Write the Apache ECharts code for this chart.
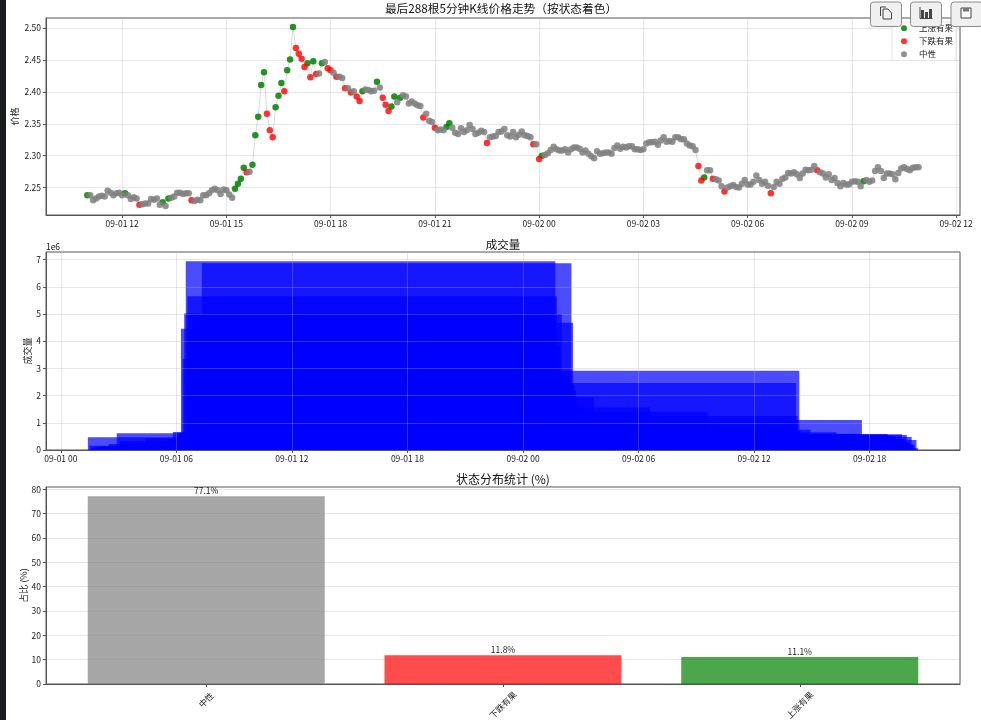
<!DOCTYPE html>
<html>
<head>
<meta charset="utf-8">
<style>
html, body { margin: 0; padding: 0; background: #fff; }
#main { width: 981px; height: 720px; }
</style>
</head>
<body>
<div id="main"></div>
<script src="https://cdn.jsdelivr.net/npm/echarts@6/dist/echarts.min.js"></script>
<script>
var prices = [
2.238,2.238,2.230,2.233,2.236,2.237,2.236,2.245,2.242,2.238,2.241,2.242,
2.238,2.241,2.238,2.232,2.235,2.233,2.223,2.224,2.225,2.225,2.232,2.231,
2.233,2.223,2.227,2.221,2.233,2.234,2.236,2.242,2.242,2.240,2.241,2.241,
2.230,2.229,2.231,2.230,2.238,2.238,2.241,2.246,2.248,2.246,2.240,2.247,
2.246,2.239,2.234,2.248,2.256,2.264,2.281,2.274,2.275,2.286,2.332,2.361,
2.411,2.431,2.366,2.340,2.329,2.376,2.394,2.414,2.401,2.434,2.451,2.502,
2.469,2.460,2.452,2.439,2.445,2.423,2.448,2.428,2.429,2.445,2.447,2.437,
2.434,2.430,2.424,2.424,2.422,2.406,2.406,2.399,2.401,2.393,2.386,2.401,
2.404,2.403,2.401,2.402,2.416,2.407,2.391,2.380,2.370,2.377,2.393,2.384,
2.391,2.395,2.393,2.382,2.385,2.382,2.379,2.378,2.360,2.366,2.355,2.353,
2.344,2.340,2.341,2.340,2.345,2.351,2.344,2.336,2.334,2.343,2.337,2.340,
2.348,2.342,2.334,2.336,2.339,2.337,2.320,2.329,2.330,2.331,2.337,2.338,
2.342,2.332,2.330,2.337,2.329,2.333,2.338,2.332,2.331,2.329,2.318,2.318,
2.295,2.300,2.301,2.304,2.309,2.314,2.310,2.308,2.308,2.310,2.305,2.310,
2.313,2.313,2.311,2.305,2.308,2.303,2.299,2.296,2.307,2.303,2.304,2.305,
2.305,2.303,2.312,2.316,2.311,2.314,2.313,2.315,2.315,2.310,2.310,2.309,
2.310,2.319,2.321,2.321,2.322,2.317,2.324,2.329,2.322,2.323,2.322,2.329,
2.329,2.326,2.326,2.319,2.316,2.315,2.309,2.284,2.261,2.266,2.277,2.277,
2.264,2.263,2.261,2.252,2.244,2.250,2.252,2.254,2.251,2.250,2.256,2.262,
2.255,2.255,2.259,2.269,2.262,2.256,2.259,2.253,2.241,2.251,2.259,2.256,
2.264,2.266,2.273,2.272,2.274,2.271,2.265,2.272,2.278,2.277,2.278,2.284,
2.277,2.274,2.272,2.266,2.271,2.262,2.265,2.257,2.252,2.257,2.255,2.255,
2.259,2.260,2.259,2.252,2.260,2.262,2.259,2.261,2.276,2.282,2.276,2.265,
2.272,2.272,2.271,2.263,2.273,2.280,2.282,2.279,2.277,2.281,2.282,2.282
];
var upIndex = [0,13,26,28,51,52,53,54,57,58,59,60,61,65,66,67,69,70,71,76,78,81,95,100,105,106,108,124,125,157,213,268];
var downIndex = [18,36,55,62,63,64,68,72,73,74,75,77,79,83,84,86,89,91,93,94,102,103,104,116,120,138,154,156,211,212,216,220,236,252];

// 成交量, 单位 1e6
var volumes = [
.47,.16,.08,.05,.10,.06,.12,.07,.14,.09,.11,.05,
.08,.22,.10,.06,.13,.09,.62,.15,.33,.12,.08,.18,
.14,.20,.09,.16,.25,.11,.19,.13,.23,.10,.17,.12,
.43,.15,.21,.12,.26,.09,.18,.30,.14,.22,.11,.28,
.16,.20,.35,.13,.40,.66,.38,.63,.50,.55,4.46,3.35,
5.02,6.94,5.65,3.20,3.80,5.00,2.70,2.60,2.05,2.40,2.75,6.87,
4.68,2.40,2.20,1.60,1.25,1.50,1.40,.90,.80,.70,.90,1.10,
.80,1.94,.70,.60,.85,1.05,.65,.75,.55,.95,1.15,.60,
.45,.50,.40,.35,.90,.55,1.00,1.20,1.30,.75,.85,.50,
.60,.40,.35,.45,.30,.42,.28,.36,.95,.50,.55,.38,
1.56,.40,.30,.28,.70,.85,.45,.50,.33,.38,.42,.30,
.48,.35,.52,.30,.28,.34,.90,.42,.30,.26,.36,.32,
.40,.45,.30,.38,.34,.28,.36,.25,.30,.27,.70,.32,
1.41,.75,.45,.38,.52,.40,.30,.26,.24,.28,.30,.34,
.22,.26,.20,.32,.24,.30,.35,.40,.45,.25,.20,.18,
.16,.22,.42,.36,.24,.28,.20,.18,.22,.26,.19,.17,
.15,.32,.28,.20,.24,.35,.30,.40,.26,.18,.22,.33,
.28,.20,.24,.38,.30,.55,.72,2.46,1.25,2.91,.70,.55,
.62,.48,.40,.58,.74,.45,.36,.30,.28,.26,.38,.42,
.30,.25,.28,.35,.46,.27,.30,.33,.65,.36,.44,.30,
.40,.32,.46,.28,.25,.33,.38,.42,.35,.60,.30,.45,
1.10,.42,.38,.47,.30,.44,.26,.40,.48,.30,.24,.22,
.28,.26,.34,.36,.59,.30,.27,.22,.52,.48,.30,.35,
.28,.58,.40,.33,.55,.30,.26,.48,.20,.18,.37,.06
];

var stateNames = ['中性', '下跌有果', '上涨有果'];
var statePercents = [77.1, 11.8, 11.1];
var stateColors = ['rgba(128,128,128,0.7)', 'rgba(255,0,0,0.7)', 'rgba(0,128,0,0.7)'];

var HOUR = 3600000;
var startTime = Date.UTC(2025, 8, 1, 11, 0);
var dayZero = Date.UTC(2025, 8, 1, 0, 0);
var times = prices.map(function (p, i) { return startTime + i * 5 * 60000; });

var priceTicks = [];
for (var h = 12; h <= 36; h += 3) priceTicks.push(dayZero + h * HOUR);
var volumeTicks = [];
for (var h2 = 0; h2 <= 42; h2 += 6) volumeTicks.push(dayZero + h2 * HOUR);

function pad(n) { return (n < 10 ? '0' : '') + n; }
function fmtTime(v) {
    var d = new Date(v);
    return pad(d.getUTCMonth() + 1) + '-' + pad(d.getUTCDate()) + ' ' + pad(d.getUTCHours());
}
function pick(list) {
    return list.map(function (i) { return [times[i], prices[i]]; });
}
var neutralIndex = prices.map(function (p, i) { return i; }).filter(function (i) {
    return upIndex.indexOf(i) < 0 && downIndex.indexOf(i) < 0;
});

var FONT = '"Noto Sans CJK SC", sans-serif';
var TXT = '#222';
var gridLine = { show: true, lineStyle: { color: 'rgba(176,176,176,0.3)', width: 1 } };
var spine = { show: true, onZero: false, lineStyle: { color: '#555', width: 1 } };
var tick = { show: true, length: 3, lineStyle: { color: '#555', width: 1 } };
var label = { color: TXT, fontFamily: FONT, fontSize: 8.5, margin: 5 };

function merge(a, b) { return Object.assign({}, a, b); }
function titleOf(text, x, y, size) {
    return { text: text, left: x, top: y, textAlign: 'center', textVerticalAlign: 'middle', padding: 0,
        textStyle: { color: '#111', fontFamily: FONT, fontSize: size || 11.5, fontWeight: 'normal' } };
}
function yName(text, gap) {
    return { name: text, nameLocation: 'middle', nameGap: gap, nameRotate: 90, nameMoveOverlap: false,
        nameTextStyle: { color: TXT, fontFamily: FONT, fontSize: 9 } };
}
function box(top, height) {
    return { left: 46, top: top, width: 914, height: height, show: true, backgroundColor: '#fff',
        borderColor: '#555', borderWidth: 1, outerBoundsMode: 'none' };
}

var btnBorder = '#8a8a8a', btnFill = '#f0f0f0', icon = '#444';
function button(x) {
    return { type: 'rect', shape: { x: x, y: 2, width: 31, height: 24.5, r: 3 }, z: 100,
        style: { fill: btnFill, stroke: btnBorder, lineWidth: 1 } };
}
function iconLine(points, fill) {
    return { type: 'polyline', shape: { points: points }, z: 101,
        style: { stroke: icon, lineWidth: 1, fill: fill || 'none' } };
}

var option = {
    animation: false,
    backgroundColor: '#fff',
    title: [
        titleOf('最后288根5分钟K线价格走势（按状态着色）', 501, 9, 11.7),
        titleOf('成交量', 503, 245),
        titleOf('状态分布统计 (%)', 503, 479, 12),
        titleOf('1e6', 53, 247, 8.5)
    ],
    legend: {
        orient: 'vertical', left: 892, top: 22, padding: [2, 3, 2, 9],
        icon: 'circle', itemWidth: 6, itemHeight: 6, itemGap: 4.5,
        backgroundColor: '#fff', borderColor: '#e4e4e4', borderWidth: 1, borderRadius: 2,
        data: ['上涨有果', '下跌有果', '中性'],
        textStyle: { color: TXT, fontFamily: FONT, fontSize: 8.5, padding: [0, 0, 0, 7] }
    },
    grid: [box(18, 197), box(252, 198), box(487, 197)],
    xAxis: [
        {
            gridIndex: 0, type: 'value', min: dayZero + 9.81 * HOUR, max: dayZero + 36.11 * HOUR,
            axisLine: spine,
            axisTick: merge(tick, { customValues: priceTicks }),
            axisLabel: merge(label, { customValues: priceTicks, formatter: fmtTime, hideOverlap: false }),
            splitLine: gridLine
        },
        {
            gridIndex: 1, type: 'value', z: 5, min: dayZero - 0.77 * HOUR, max: dayZero + 46.69 * HOUR,
            axisLine: spine,
            axisTick: merge(tick, { customValues: volumeTicks }),
            axisLabel: merge(label, { customValues: volumeTicks, formatter: fmtTime, hideOverlap: false }),
            splitLine: gridLine
        },
        {
            gridIndex: 2, type: 'value', min: -0.54, max: 2.54,
            axisLine: spine,
            axisTick: merge(tick, { customValues: [0, 1, 2] }),
            axisLabel: merge(label, {
                customValues: [0, 1, 2], rotate: 45, align: 'center', verticalAlign: 'middle', margin: 16,
                formatter: function (v) {
                    return stateNames[v].length > 2 ? '{long|' + stateNames[v] + '}' : stateNames[v];
                },
                rich: { long: { color: TXT, fontFamily: FONT, fontSize: 8.5, padding: [7, 7, 0, 0] } }
            }),
            splitLine: { show: false }
        }
    ],
    yAxis: [
        merge(yName('价格', 26.5), {
            gridIndex: 0, type: 'value', min: 2.207, max: 2.516,
            axisLine: spine,
            axisTick: merge(tick, { customValues: [2.25, 2.30, 2.35, 2.40, 2.45, 2.50] }),
            axisLabel: merge(label, { customValues: [2.25, 2.30, 2.35, 2.40, 2.45, 2.50], formatter: function (v) { return v.toFixed(2); } }),
            splitLine: gridLine
        }),
        merge(yName('成交量', 13.5), {
            gridIndex: 1, type: 'value', z: 5, min: 0, max: 7.28, interval: 1,
            axisLine: spine, axisTick: tick, axisLabel: label,
            splitLine: gridLine
        }),
        merge(yName('占比 (%)', 17.5), {
            gridIndex: 2, type: 'value', min: 0, max: 80.95, interval: 10,
            axisLine: spine, axisTick: tick, axisLabel: label,
            splitLine: gridLine
        })
    ],
    series: [
        {
            name: '价格线', type: 'line', xAxisIndex: 0, yAxisIndex: 0, showSymbol: false, legendHoverLink: false,
            data: times.map(function (t, i) { return [t, prices[i]]; }),
            lineStyle: { color: 'rgba(128,128,128,0.3)', width: 1 }, silent: true, z: 1
        },
        { name: '上涨有果', type: 'scatter', xAxisIndex: 0, yAxisIndex: 0, symbolSize: 6.5, data: pick(upIndex), itemStyle: { color: 'green', opacity: 0.85 }, z: 2 },
        { name: '下跌有果', type: 'scatter', xAxisIndex: 0, yAxisIndex: 0, symbolSize: 6.5, data: pick(downIndex), itemStyle: { color: 'red', opacity: 0.8 }, z: 3 },
        { name: '中性', type: 'scatter', xAxisIndex: 0, yAxisIndex: 0, symbolSize: 6.5, data: pick(neutralIndex), itemStyle: { color: 'gray', opacity: 0.85 }, z: 4 },
        {
            name: '成交量', type: 'bar', xAxisIndex: 1, yAxisIndex: 1,
            data: times.map(function (t, i) { return [t, volumes[i]]; }),
            barWidth: 369.6, barMinWidth: 369.6,
            itemStyle: { color: 'blue', opacity: 0.7 }
        },
        {
            name: '状态分布', type: 'bar', xAxisIndex: 2, yAxisIndex: 2,
            barWidth: 237, barMinWidth: 237,
            data: statePercents.map(function (v, i) {
                return { value: [i, v], itemStyle: { color: stateColors[i] } };
            }),
            label: {
                show: true, position: 'top', distance: 1, color: TXT, fontFamily: FONT, fontSize: 8.5,
                formatter: function (p) { return p.value[1].toFixed(1) + '%'; }
            }
        }
    ],
    graphic: [
        { type: 'rect', shape: { x: 0, y: 0, width: 6, height: 720 }, z: 100, style: { fill: '#1a1c20' } },
        button(870.5), button(910.5), button(951),
        // 复制
        iconLine([[880.5, 16], [880.5, 7], [886, 7]]),
        iconLine([[883, 9], [888, 9], [891.5, 13], [891.5, 19], [883, 19], [883, 9]], btnFill),
        // 图表
        { type: 'rect', shape: { x: 921, y: 10, width: 3, height: 8 }, z: 101, style: { fill: icon } },
        { type: 'rect', shape: { x: 925, y: 12, width: 3, height: 6 }, z: 101, style: { fill: icon } },
        { type: 'rect', shape: { x: 929, y: 9, width: 3, height: 9 }, z: 101, style: { fill: icon } },
        iconLine([[920, 7], [920, 18.5], [932.5, 18.5]]),
        // 保存
        iconLine([[961, 8], [971, 8], [971, 18], [961, 18], [961, 8]], '#f8f8f8'),
        { type: 'rect', shape: { x: 963, y: 8, width: 6, height: 3.5 }, z: 102, style: { fill: '#777' } }
    ]
};

var chart = echarts.init(document.getElementById('main'), null, { renderer: 'canvas' });
chart.setOption(option);
</script>
</body>
</html>
